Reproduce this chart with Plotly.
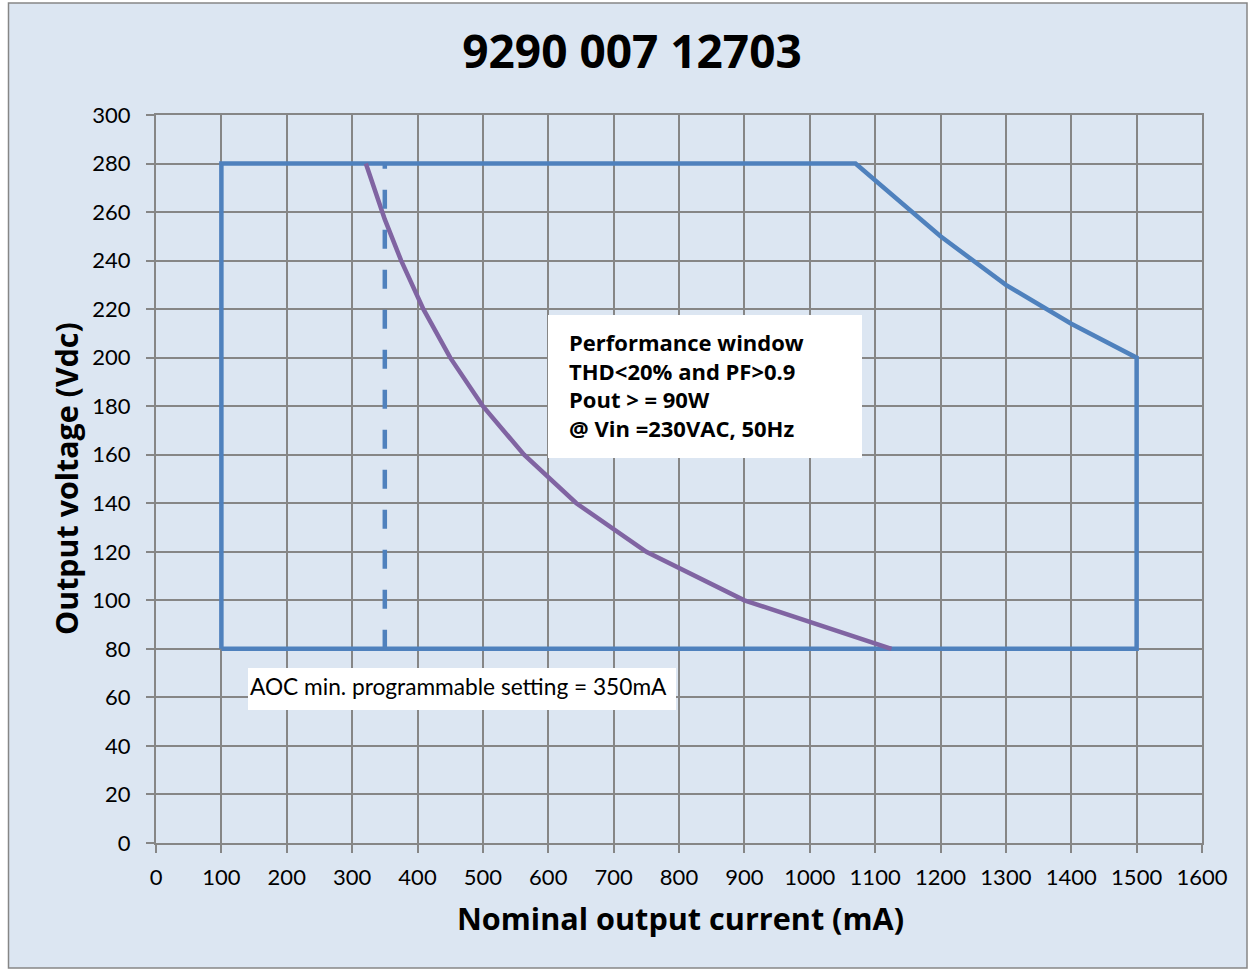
import plotly.graph_objects as go

# Data
window_current = [100, 100, 1070, 1200, 1300, 1400, 1500, 1500, 100]
window_voltage = [80, 280, 280, 250, 230, 214, 200, 80, 80]

power_current = [321, 350, 375, 409, 450, 500, 563, 643, 750, 900, 1125]
power_voltage = [280, 257, 240, 220, 200, 180, 160, 140, 120, 100, 80]

aoc_current = [350, 350]
aoc_voltage = [80, 280]

x_ticks = list(range(0, 1601, 100))
y_ticks = list(range(0, 301, 20))

BLUE = "#4F81BD"
PURPLE = "#8064A2"
GRID = "#868686"
BG = "#DCE6F2"
FONT = "Lato"
BOLD = "Open Sans"

fig = go.Figure()
fig.add_trace(go.Scatter(x=window_current, y=window_voltage, mode="lines",
                         line=dict(color=BLUE, width=4.5), showlegend=False, hoverinfo="skip"))
fig.add_trace(go.Scatter(x=power_current, y=power_voltage, mode="lines",
                         line=dict(color=PURPLE, width=4.5), showlegend=False, hoverinfo="skip"))
fig.add_trace(go.Scatter(x=aoc_current, y=aoc_voltage, mode="lines",
                         line=dict(color=BLUE, width=4.5, dash="19px,21px"), showlegend=False,
                         hoverinfo="skip"))

W, H = 1250, 970
L, R, T, B = 156, 48, 115, 127
pw, ph = W - L - R, H - T - B

def px_x(p):
    return (p - L) / pw

def px_y(p):
    return (H - B - p) / ph

def dx(p):
    return (p - L) / pw * 1600

def dy(p):
    return (H - B - p) / ph * 300

shapes = [
    dict(type="rect", xref="paper", yref="paper", x0=px_x(8.5), x1=px_x(1247), y0=px_y(968), y1=px_y(3),
         fillcolor=BG, line=dict(color=GRID, width=1.5), layer="below"),
    dict(type="rect", xref="x", yref="y", x0=dx(548), x1=dx(862), y0=dy(458), y1=dy(315),
         fillcolor="white", line=dict(width=0), layer="between"),
    dict(type="rect", xref="x", yref="y", x0=dx(248), x1=dx(676), y0=dy(710), y1=dy(668),
         fillcolor="white", line=dict(width=0), layer="between"),
]

annotations = [
    dict(text="<b>Performance window<br>THD&lt;20% and PF&gt;0.9<br>Pout &gt; = 90W<br>@ Vin =230VAC, 50Hz</b>",
         x=dx(567), y=dy(385), xref="x", yref="y", xanchor="left", yanchor="middle", align="left",
         showarrow=False, font=dict(family=BOLD, size=22, color="black")),
    dict(text="AOC min. programmable setting = 350mA",
         x=dx(458), y=dy(686), xref="x", yref="y", xanchor="center", yanchor="middle",
         showarrow=False, font=dict(family=FONT, size=22.7, color="black")),
    dict(text="<b>Nominal output current (mA)</b>",
         x=px_x(680), y=px_y(918), xref="paper", yref="paper", xanchor="center", yanchor="middle",
         showarrow=False, font=dict(family=BOLD, size=30.6, color="black")),
    dict(text="<b>Output voltage (Vdc)</b>", textangle=-90,
         x=px_x(66), y=px_y(479), xref="paper", yref="paper", xanchor="center", yanchor="middle",
         showarrow=False, font=dict(family=BOLD, size=30.4, color="black")),
]

fig.update_layout(
    width=W, height=H,
    margin=dict(l=L, r=R, t=T, b=B, pad=0),
    paper_bgcolor="white", plot_bgcolor="white",
    title=dict(text="<b>9290 007 12703</b>", x=(462 + 802) / 2 / W, xanchor="center",
               y=1 - 52 / H, yanchor="middle", font=dict(family=BOLD, size=46, color="black")),
    shapes=shapes, annotations=annotations,
    font=dict(family=FONT, color="black"),
)
fig.update_xaxes(range=[0, 1600], tickvals=x_ticks, ticktext=[str(v) for v in x_ticks],
                 showgrid=True, gridcolor=GRID, gridwidth=2,
                 showline=True, linecolor=GRID, linewidth=2, mirror=True,
                 ticks="outside", ticklen=8, tickwidth=2, tickcolor=GRID, ticklabelstandoff=6,
                 tickfont=dict(family=FONT, size=22, color="black"), zeroline=False)
fig.update_yaxes(range=[0, 300], tickvals=y_ticks, ticktext=[str(v) for v in y_ticks],
                 showgrid=True, gridcolor=GRID, gridwidth=2,
                 showline=True, linecolor=GRID, linewidth=2, mirror=True,
                 ticks="outside", ticklen=8, tickwidth=2, tickcolor=GRID, ticklabelstandoff=11,
                 tickfont=dict(family=FONT, size=22, color="black"), zeroline=False)

fig.write_html("out.html", config={"displayModeBar": False},
               post_script="document.body.style.margin='0px';")
